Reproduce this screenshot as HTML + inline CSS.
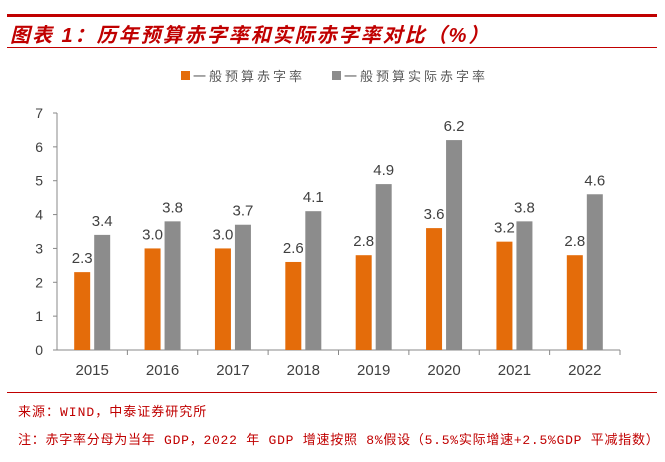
<!DOCTYPE html>
<html><head><meta charset="utf-8"><style>
body{margin:0;background:#fff;width:665px;height:462px;overflow:hidden;position:relative;font-family:"Liberation Sans","Noto Sans CJK SC",sans-serif}
.abs{position:absolute}
</style></head><body>
<div class="abs" style="left:7px;top:14px;width:650px;height:3px;background:#c00000"></div>
<div class="abs" style="left:10px;top:19px;font-size:20px;letter-spacing:2px;font-weight:bold;font-style:italic;color:#c00000;font-family:'Liberation Sans','Noto Sans CJK SC',sans-serif">图表 1：历年预算赤字率和实际赤字率对比（%）</div>
<div class="abs" style="left:7px;top:47px;width:650px;height:1px;background:#c00000"></div>
<svg class="abs" style="left:0;top:0" width="665" height="462" id="chart"></svg>
<div class="abs" style="left:7px;top:392px;width:650px;height:1px;background:#c00000"></div>
<div class="abs" style="left:18px;top:401px;font-size:13px;letter-spacing:1px;color:#c00000;font-family:'Liberation Mono','Noto Sans CJK SC',monospace">来源：WIND，中泰证券研究所</div>
<div class="abs" style="left:18px;top:429px;font-size:13px;letter-spacing:0.75px;color:#c00000;font-family:'Liberation Mono','Noto Sans CJK SC',monospace;white-space:nowrap">注：赤字率分母为当年 GDP，2022 年 GDP 增速按照 8%假设（5.5%实际增速+2.5%GDP 平减指数）</div>
<script>
const categories=["2015","2016","2017","2018","2019","2020","2021","2022"];
const budgetDeficit=[2.3,3.0,3.0,2.6,2.8,3.6,3.2,2.8];
const actualDeficit=[3.4,3.8,3.7,4.1,4.9,6.2,3.8,4.6];
const yTicks=[0,1,2,3,4,5,6,7];
const ns="http://www.w3.org/2000/svg";
const svg=document.getElementById('chart');
const x0=57,x1=620,y0=350,y7=113;
const bw=(x1-x0)/categories.length;
const ys=v=>y0-(y0-y7)*v/7;
function el(t,a,txt){const e=document.createElementNS(ns,t);for(const k in a)e.setAttribute(k,a[k]);if(txt!==undefined)e.textContent=txt;svg.appendChild(e);return e;}
let ax=el('line',{x1:x0,y1:y7,x2:x0,y2:y0,stroke:'#888'});

yTicks.forEach(t=>{
 let l=el('line',{x1:x0-4,x2:x0,y1:ys(t),y2:ys(t),stroke:'#888'});
 
 let tx=el('text',{x:x0-14,y:ys(t)+5,'text-anchor':'end','font-size':14,fill:'#404040'},t);
 
});
let xa=el('line',{x1:x0,y1:y0,x2:x1,y2:y0,stroke:'#888'});

categories.forEach((c,i)=>{
 const cx=x0+bw*(i+0.5);
 let tk=el('line',{x1:x0+bw*(i+1),x2:x0+bw*(i+1),y1:y0,y2:y0+5,stroke:'#888'});
 
 let xl=el('text',{x:cx,y:y0+25,'text-anchor':'middle','font-size':15,fill:'#404040'},c);
 
 const w=16;
 let b1=el('rect',{x:cx-w-2,y:ys(budgetDeficit[i]),width:w,height:y0-ys(budgetDeficit[i]),fill:'#e46c0a'});
 
 let b2=el('rect',{x:cx+2,y:ys(actualDeficit[i]),width:w,height:y0-ys(actualDeficit[i]),fill:'#8c8c8c'});
 
 let l1=el('text',{x:cx-w/2-2,y:ys(budgetDeficit[i])-9,'text-anchor':'middle','font-size':15,fill:'#404040'},budgetDeficit[i].toFixed(1));
 
 let l2=el('text',{x:cx+w/2+2,y:ys(actualDeficit[i])-9,'text-anchor':'middle','font-size':15,fill:'#404040'},actualDeficit[i].toFixed(1));
 
});
let g1=el('rect',{x:181,y:71,width:9,height:9,fill:'#e46c0a'});

let t1=el('text',{x:193,y:81,'font-size':13,'letter-spacing':3,fill:'#595959'},'一般预算赤字率');

let g2=el('rect',{x:332,y:71,width:9,height:9,fill:'#8c8c8c'});

let t2=el('text',{x:344,y:81,'font-size':13,'letter-spacing':3,fill:'#595959'},'一般预算实际赤字率');

</script>
</body></html>
